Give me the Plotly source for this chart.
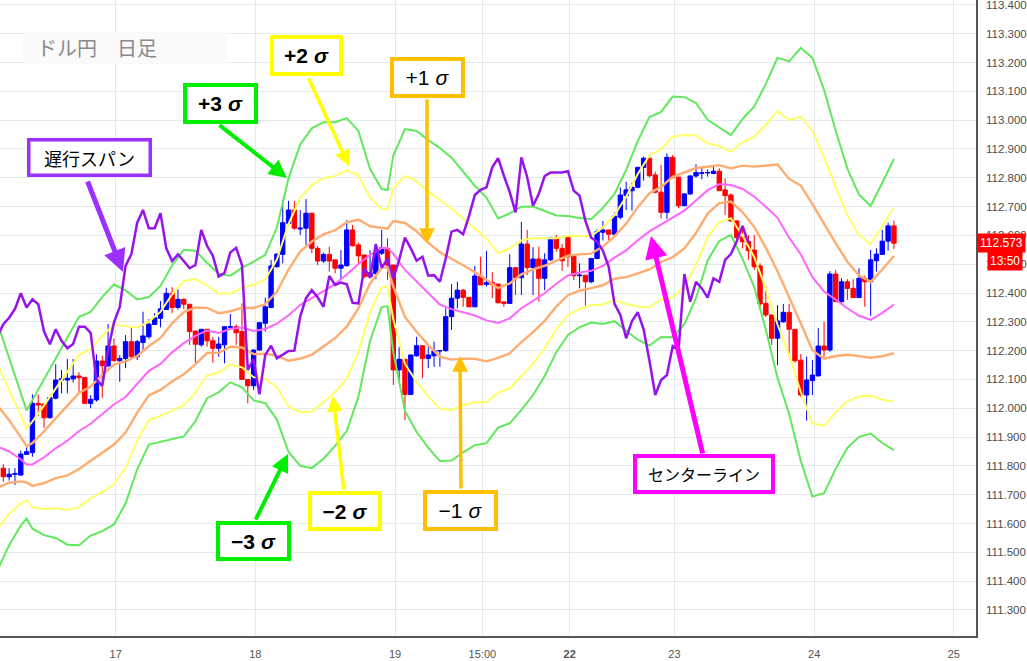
import plotly.graph_objects as go

# ---------------- data (USD/JPY hourly candles) ----------------
candle_open = [
    111.792, 111.762, 111.771, 111.768, 111.840, 111.846, 112.017, 112.015, 111.967, 112.035,
    112.098, 112.098, 112.102, 112.112, 112.107, 112.017, 112.029, 112.164, 112.147, 112.216,
    112.165, 112.173, 112.231, 112.179, 112.228, 112.248, 112.291, 112.312, 112.343, 112.399,
    112.350, 112.378, 112.361, 112.268, 112.220, 112.274, 112.234, 112.208, 112.220, 112.281,
    112.283, 112.266, 112.100, 112.078, 112.202, 112.295, 112.350, 112.491, 112.534, 112.642,
    112.688, 112.622, 112.625, 112.677, 112.555, 112.511, 112.534, 112.515, 112.486, 112.495,
    112.619, 112.567, 112.532, 112.457, 112.468, 112.538, 112.555, 112.497, 112.133, 112.170,
    112.048, 112.182, 112.217, 112.173, 112.182, 112.199, 112.200, 112.318, 112.382, 112.410,
    112.385, 112.352, 112.459, 112.430, 112.437, 112.431, 112.369, 112.364, 112.488, 112.453,
    112.570, 112.488, 112.518, 112.451, 112.515, 112.592, 112.555, 112.592, 112.528, 112.460,
    112.462, 112.439, 112.520, 112.611, 112.619, 112.604, 112.663, 112.738, 112.755, 112.767,
    112.836, 112.868, 112.810, 112.750, 112.680, 112.871, 112.802, 112.703, 112.744, 112.806,
    112.815, 112.817, 112.815, 112.823, 112.758, 112.740, 112.650, 112.595, 112.580, 112.549,
    112.494, 112.364, 112.324, 112.243, 112.300, 112.333, 112.274, 112.167, 112.046, 112.096,
    112.112, 112.216, 112.202, 112.466, 112.370, 112.439, 112.416, 112.384, 112.451, 112.439,
    112.512, 112.534, 112.580, 112.633,
]
candle_high = [
    111.806, 111.792, 111.792, 111.853, 111.872, 112.048, 112.048, 112.015, 112.040, 112.153,
    112.133, 112.171, 112.171, 112.125, 112.107, 112.046, 112.187, 112.182, 112.292, 112.243,
    112.185, 112.254, 112.281, 112.237, 112.335, 112.309, 112.330, 112.372, 112.418, 112.420,
    112.413, 112.382, 112.361, 112.268, 112.274, 112.274, 112.248, 112.248, 112.285, 112.327,
    112.291, 112.364, 112.100, 112.205, 112.300, 112.384, 112.515, 112.538, 112.723, 112.720,
    112.719, 112.688, 112.726, 112.677, 112.563, 112.540, 112.561, 112.515, 112.549, 112.653,
    112.636, 112.575, 112.532, 112.549, 112.543, 112.619, 112.590, 112.497, 112.214, 112.170,
    112.185, 112.248, 112.217, 112.214, 112.231, 112.200, 112.347, 112.431, 112.439, 112.414,
    112.385, 112.494, 112.526, 112.546, 112.472, 112.431, 112.369, 112.535, 112.488, 112.647,
    112.619, 112.559, 112.561, 112.538, 112.595, 112.601, 112.570, 112.593, 112.528, 112.503,
    112.462, 112.520, 112.621, 112.650, 112.619, 112.679, 112.766, 112.786, 112.783, 112.838,
    112.873, 112.868, 112.821, 112.844, 112.885, 112.879, 112.804, 112.746, 112.810, 112.847,
    112.835, 112.829, 112.841, 112.833, 112.798, 112.746, 112.653, 112.625, 112.601, 112.601,
    112.503, 112.424, 112.324, 112.358, 112.362, 112.362, 112.274, 112.188, 112.179, 112.167,
    112.278, 112.300, 112.476, 112.480, 112.451, 112.448, 112.448, 112.486, 112.460, 112.549,
    112.555, 112.619, 112.644, 112.651,
]
candle_low = [
    111.745, 111.749, 111.734, 111.765, 111.838, 111.832, 111.973, 111.932, 111.965, 112.031,
    112.052, 112.052, 112.089, 112.057, 112.015, 112.000, 112.023, 112.037, 112.144, 112.162,
    112.092, 112.139, 112.171, 112.167, 112.202, 112.241, 112.289, 112.281, 112.341, 112.330,
    112.343, 112.344, 112.220, 112.158, 112.214, 112.214, 112.158, 112.179, 112.156, 112.281,
    112.220, 112.098, 112.017, 112.063, 112.199, 112.266, 112.347, 112.489, 112.503, 112.638,
    112.619, 112.601, 112.567, 112.538, 112.497, 112.505, 112.474, 112.468, 112.445, 112.491,
    112.561, 112.503, 112.451, 112.451, 112.448, 112.532, 112.445, 112.081, 112.092, 111.959,
    112.046, 112.179, 112.104, 112.139, 112.144, 112.144, 112.196, 112.272, 112.347, 112.352,
    112.352, 112.352, 112.428, 112.422, 112.382, 112.364, 112.352, 112.364, 112.393, 112.393,
    112.462, 112.393, 112.370, 112.410, 112.511, 112.543, 112.477, 112.491, 112.445, 112.416,
    112.356, 112.434, 112.517, 112.582, 112.582, 112.598, 112.656, 112.688, 112.686, 112.763,
    112.790, 112.802, 112.746, 112.659, 112.657, 112.796, 112.694, 112.702, 112.740, 112.800,
    112.795, 112.804, 112.812, 112.754, 112.671, 112.648, 112.584, 112.555, 112.515, 112.480,
    112.343, 112.316, 112.220, 112.150, 112.297, 112.179, 112.158, 112.040, 111.957, 112.046,
    112.112, 112.179, 112.196, 112.370, 112.366, 112.376, 112.384, 112.384, 112.352, 112.321,
    112.474, 112.532, 112.547, 112.553,
]
candle_close = [
    111.762, 111.771, 111.773, 111.841, 111.849, 112.017, 112.011, 111.967, 112.037, 112.098,
    112.102, 112.104, 112.112, 112.106, 112.017, 112.031, 112.164, 112.148, 112.216, 112.165,
    112.173, 112.231, 112.179, 112.231, 112.251, 112.292, 112.314, 112.345, 112.399, 112.350,
    112.378, 112.361, 112.266, 112.222, 112.274, 112.234, 112.208, 112.223, 112.283, 112.283,
    112.262, 112.100, 112.078, 112.202, 112.297, 112.352, 112.494, 112.535, 112.644, 112.688,
    112.625, 112.625, 112.677, 112.555, 112.511, 112.534, 112.511, 112.486, 112.497, 112.619,
    112.564, 112.529, 112.457, 112.470, 112.541, 112.557, 112.497, 112.133, 112.170, 112.048,
    112.185, 112.217, 112.173, 112.185, 112.199, 112.200, 112.318, 112.382, 112.410, 112.385,
    112.352, 112.459, 112.428, 112.436, 112.430, 112.366, 112.364, 112.488, 112.453, 112.570,
    112.488, 112.518, 112.451, 112.515, 112.592, 112.555, 112.512, 112.526, 112.460, 112.462,
    112.439, 112.520, 112.613, 112.619, 112.604, 112.667, 112.740, 112.758, 112.767, 112.836,
    112.868, 112.807, 112.750, 112.680, 112.871, 112.802, 112.703, 112.744, 112.806, 112.818,
    112.817, 112.818, 112.823, 112.755, 112.738, 112.650, 112.592, 112.578, 112.547, 112.491,
    112.362, 112.324, 112.243, 112.303, 112.333, 112.274, 112.165, 112.046, 112.098, 112.115,
    112.216, 112.202, 112.466, 112.370, 112.439, 112.416, 112.384, 112.451, 112.439, 112.515,
    112.535, 112.580, 112.633, 112.573,
]

band_pos = [
    -1, 1, 3, 4, 5, 7, 9, 11, 13, 15, 17, 19, 21, 23, 25, 27, 29, 31, 33, 35, 37, 39, 41, 43,
    45, 47, 49, 51, 53, 55, 57, 59, 61, 63, 65, 66, 67, 69, 71, 73, 75, 77, 79, 81, 83, 85, 87,
    89, 91, 93, 95, 97, 99, 101, 103, 105, 107, 109, 111, 113, 115, 117, 119, 121, 123, 125,
    127, 129, 131, 133, 135, 137, 139, 141, 143, 145, 147, 149, 151, 153,
]
band_center = [
    111.867, 111.850, 111.823, 111.805, 111.805, 111.830, 111.861, 111.887, 111.921, 111.946,
    111.980, 112.013, 112.039, 112.083, 112.130, 112.154, 112.194, 112.226, 112.251, 112.270,
    112.261, 112.275, 112.280, 112.268, 112.275, 112.294, 112.323, 112.358, 112.382, 112.409,
    112.431, 112.464, 112.501, 112.532, 112.556, 112.556, 112.536, 112.480, 112.440, 112.397,
    112.360, 112.344, 112.334, 112.322, 112.305, 112.296, 112.312, 112.347, 112.373, 112.399,
    112.432, 112.461, 112.471, 112.477, 112.494, 112.523, 112.548, 112.583, 112.614, 112.638,
    112.664, 112.686, 112.721, 112.757, 112.778, 112.775, 112.761, 112.734, 112.699, 112.661,
    112.592, 112.534, 112.455, 112.405, 112.377, 112.347, 112.321, 112.307, 112.331, 112.360,
]
band_sigma = [
    0.1429, 0.1086, 0.0767, 0.0625, 0.0744, 0.0901, 0.1037, 0.1202, 0.1321, 0.1293,
    0.1355, 0.1388, 0.1233, 0.0983, 0.0853, 0.0902, 0.1008, 0.1080, 0.0986, 0.0784,
    0.0686, 0.0617, 0.0691, 0.0802, 0.0858, 0.1111, 0.1583, 0.1859, 0.1966, 0.1947,
    0.1873, 0.1810, 0.1539, 0.0995, 0.0683, 0.0671, 0.1137, 0.1631, 0.1742, 0.1779,
    0.1811, 0.1752, 0.1623, 0.1501, 0.1421, 0.1210, 0.1214, 0.1176, 0.1090, 0.0956,
    0.0791, 0.0688, 0.0631, 0.0598, 0.0671, 0.0736, 0.0930, 0.1150, 0.1322, 0.1302,
    0.1393, 0.1313, 0.1128, 0.0813, 0.0658, 0.0577, 0.0810, 0.1045, 0.1423, 0.1852,
    0.2039, 0.2390, 0.2537, 0.2332, 0.1955, 0.1616, 0.1401, 0.1316, 0.1506, 0.1684,
]

LAG_SHIFT = 25          # 遅行スパン: close plotted 25 candles back
FIRST_LAG_CANDLE = 24

tick_labels = ["17", "18", "19", "15:00", "<b>22</b>", "23", "24", "25"]
tick_hours = [0, 24, 48, 63, 78, 96, 120, 144]

last_price_label = "112.573"
last_price = 112.573
time_label = "13:50"

# ---------------- layout helpers ----------------
PLOT_W, PLOT_H = 976, 636
TICK_OFFSET = 19.3
def PX(x):
    return x / PLOT_W
def PY(y):
    return 1 - y / PLOT_H

FONT = "Liberation Sans, Arial, sans-serif"
JFONT = "Noto Sans CJK JP, sans-serif"

x_idx = list(range(len(candle_close)))

fig = go.Figure()

band_styles = [
    (3, "rgb(98,232,92)", 2),
    (2, "rgb(255,255,102)", 2),
    (1, "rgb(255,172,112)", 2.4),
]
for n, col, w in band_styles:
    for sgn in (1, -1):
        fig.add_trace(go.Scatter(
            x=band_pos,
            y=[c + sgn * n * s for c, s in zip(band_center, band_sigma)],
            mode="lines", line=dict(color=col, width=w), hoverinfo="skip"))
fig.add_trace(go.Scatter(x=band_pos, y=band_center, mode="lines",
                         line=dict(color="rgb(255,100,255)", width=2), hoverinfo="skip"))

fig.add_trace(go.Candlestick(
    x=x_idx, open=candle_open, high=candle_high, low=candle_low, close=candle_close,
    increasing=dict(line=dict(color="#0000ff", width=1), fillcolor="#0000ff"),
    decreasing=dict(line=dict(color="#ff0000", width=1), fillcolor="#ff0000"),
    whiskerwidth=0, hoverinfo="skip"))

lag_x = [i - LAG_SHIFT for i in range(FIRST_LAG_CANDLE, len(candle_close))]
lag_y = candle_close[FIRST_LAG_CANDLE:]
fig.add_trace(go.Scatter(x=lag_x, y=lag_y, mode="lines",
                         line=dict(color="rgb(150,20,235)", width=2.5), hoverinfo="skip"))

annotations = []
# arrows: (tail px, tip px, colour, width)
arrows = [
    ((87, 180), (123, 272), "#9b30ff", 5),
    ((218, 124), (287, 178), "#00ee00", 4),
    ((308, 77), (349, 166), "#ffff00", 3.5),
    ((427, 98), (427, 244), "#ffc000", 3.5),
    ((703, 455), (651, 236), "#ff00ff", 5),
    ((255, 521), (288, 454), "#00ee00", 4),
    ((344, 491), (333, 396), "#ffff00", 3.5),
    ((461, 490), (460, 356), "#ffc000", 3.5),
]
for (tx, ty), (hx, hy), col, w in arrows:
    annotations.append(dict(
        x=PX(hx), y=PY(hy), xref="paper", yref="paper", text="", showarrow=True,
        ax=tx - hx, ay=ty - hy, arrowhead=2, arrowsize=0.9, arrowwidth=w,
        arrowcolor=col, standoff=0, startstandoff=0))

# label boxes: (text, x0, x1, y0, y1, colour, border, font, size)
boxes = [
    ("遅行スパン", 27, 152, 138, 177, "#9b30ff", 3.5, JFONT, 18),
    ("<b>+3 <i>σ</i></b>", 183, 258, 83, 124, "#00ee00", 4, FONT, 21),
    ("<b>+2 <i>σ</i></b>", 270, 343, 35, 76, "#ffff00", 4, FONT, 21),
    ("+1 <i>σ</i>", 390, 465, 57, 98, "#ffc000", 4, FONT, 21),
    ("センターライン", 633, 775, 454, 494, "#ff00ff", 4, JFONT, 16),
    ("<b>−3 <i>σ</i></b>", 216, 291, 521, 561, "#00ee00", 4, FONT, 21),
    ("<b>−2 <i>σ</i></b>", 308, 382, 491, 531, "#ffff00", 4, FONT, 21),
    ("−1 <i>σ</i>", 423, 498, 490, 531, "#ffc000", 4, FONT, 21),
]
for txt, x0, x1, y0, y1, col, bw, fam, size in boxes:
    annotations.append(dict(
        x=PX((x0 + x1) / 2), y=PY((y0 + y1) / 2), xref="paper", yref="paper",
        text=txt, showarrow=False, bgcolor="white", bordercolor=col, borderwidth=bw,
        borderpad=0, width=(x1 - x0) - 2 * bw, height=(y1 - y0) - 2 * bw,
        font=dict(family=fam, size=size, color="black"), xanchor="center", yanchor="middle"))

# title
annotations.append(dict(
    x=PX(35), y=PY(48), xref="paper", yref="paper", text="ドル円　日足", showarrow=False,
    xanchor="left", yanchor="middle", font=dict(family=JFONT, size=20, color="#8a8a8a")))

# price tags on the right axis
annotations.append(dict(
    x=PX(977), y=last_price, xref="paper", yref="y", text=last_price_label, showarrow=False,
    xanchor="left", yanchor="middle", bgcolor="#ff0000", borderpad=2,
    font=dict(family=FONT, size=12, color="white")))
annotations.append(dict(
    x=PX(1023), y=PY(261), xref="paper", yref="paper", text=time_label, showarrow=False,
    xanchor="right", yanchor="middle", bgcolor="#ff0000", borderpad=2,
    font=dict(family=FONT, size=12, color="white")))

shapes = [dict(type="rect", xref="paper", yref="paper", x0=PX(23), x1=PX(227),
               y0=PY(64), y1=PY(32), fillcolor="rgba(250,250,250,1)", line=dict(width=0),
               layer="above")]

fig.update_layout(
    width=1027, height=661,
    margin=dict(l=0, r=51, t=0, b=25),
    paper_bgcolor="white", plot_bgcolor="white",
    showlegend=False,
    boxgap=0.25, boxgroupgap=0,
    font=dict(family=FONT),
    annotations=annotations,
    shapes=shapes,
    xaxis=dict(
        range=[-0.57, 167.1], rangeslider=dict(visible=False),
        tickvals=[TICK_OFFSET + h for h in tick_hours], ticktext=tick_labels,
        showgrid=True, gridcolor="#e2eaf0", gridwidth=1, zeroline=False,
        showline=True, linecolor="#555555", linewidth=1.5,
        tickfont=dict(size=11, color="#555555"), ticklabelstandoff=7, fixedrange=True),
    yaxis=dict(
        side="right", range=[111.2095, 113.417], dtick=0.1, tick0=111.3,
        tickformat=".3f", showgrid=True, gridcolor="#e2eaf0", gridwidth=1, zeroline=False,
        showline=True, linecolor="#555555", linewidth=1.5, ticklabeloverflow="allow",
        tickfont=dict(size=11.5, color="#4d4d4d"), ticklabelstandoff=6, fixedrange=True),
)

fig.write_html("out.html", config={"displayModeBar": False},
               post_script="document.body.style.margin='0';document.body.style.overflow='hidden';")
